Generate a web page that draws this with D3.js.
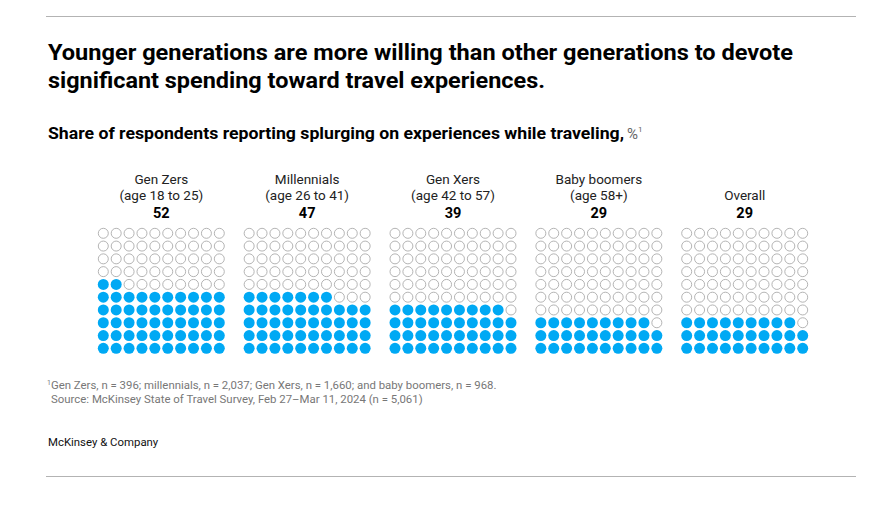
<!DOCTYPE html>
<html>
<head>
<meta charset="utf-8">
<script src="https://cdn.jsdelivr.net/npm/d3@7"></script>
<style>
  html, body { margin: 0; padding: 0; background: #fff; }
  svg { display: block; }
</style>
</head>
<body>
<svg id="chart" width="888" height="511"></svg>
<script>
const groupNames = ["Gen Zers", "Millennials", "Gen Xers", "Baby boomers", "Overall"];
const groupAges = ["(age 18 to 25)", "(age 26 to 41)", "(age 42 to 57)", "(age 58+)", ""];
const values = [52, 47, 39, 29, 29];

const title = ["Younger generations are more willing than other generations to devote",
               "significant spending toward travel experiences."];
const subtitle = "Share of respondents reporting splurging on experiences while traveling,";
const footnote1 = "Gen Zers, n = 396; millennials, n = 2,037; Gen Xers, n = 1,660; and baby boomers, n = 968.";
const footnote2 = "Source: McKinsey State of Travel Survey, Feb 27\u2013Mar 11, 2024 (n = 5,061)";
const brand = "McKinsey & Company";

const svg = d3.select("#chart");
const font = "Roboto, 'Liberation Sans', Arial, sans-serif";

// rules
svg.append("line").attr("x1", 46).attr("x2", 856).attr("y1", 16.5).attr("y2", 16.5)
  .attr("stroke", "#b3b3b3").attr("stroke-width", 1);
svg.append("line").attr("x1", 46).attr("x2", 856).attr("y1", 476.5).attr("y2", 476.5)
  .attr("stroke", "#b3b3b3").attr("stroke-width", 1);

// title
const titleWidths = [745, 497];
svg.selectAll("text.title").data(title).join("text").attr("class", "title")
  .attr("x", 48).attr("y", (d, i) => 60 + i * 28)
  .attr("font-family", font).attr("font-weight", 700).attr("font-size", 22)
  .attr("fill", "#000").attr("textLength", (d, i) => titleWidths[i])
  .attr("lengthAdjust", "spacingAndGlyphs")
  .text(d => d);

svg.append("text").attr("x", 48).attr("y", 139)
  .attr("font-family", font).attr("font-weight", 700).attr("font-size", 16).attr("fill", "#000")
  .attr("textLength", 576).attr("lengthAdjust", "spacingAndGlyphs")
  .text(subtitle);
const pct = svg.append("text").attr("x", 627).attr("y", 139)
  .attr("font-family", font).attr("font-size", 15).attr("fill", "#666");
pct.append("tspan").text("%");
pct.append("tspan").attr("font-size", 8).attr("dy", -7).text("1");

// scales
const gx = d3.scalePoint().domain(groupNames).range([103.3, 686.7]);
const cx = d3.scaleLinear().domain([0, 9]).range([0, 116]);
const cy = d3.scaleLinear().domain([0, 9]).range([233.3, 348.3]);
const blue = "#00a9f4";

const groups = svg.selectAll("g.grp").data(groupNames.map((n, i) => ({name: n, age: groupAges[i], v: values[i]})))
  .join("g").attr("class", "grp")
  .attr("transform", d => `translate(${gx(d.name)},0)`);

const mid = cx(4.5);
groups.append("text").attr("x", mid).attr("y", d => d.age ? 184 : 200)
  .attr("text-anchor", "middle").attr("font-family", font).attr("font-size", 13.5).attr("fill", "#222")
  .text(d => d.name);
groups.append("text").attr("x", mid).attr("y", 200)
  .attr("text-anchor", "middle").attr("font-family", font).attr("font-size", 13.5).attr("fill", "#222")
  .text(d => d.age);
groups.append("text").attr("x", mid).attr("y", 218)
  .attr("text-anchor", "middle").attr("font-family", font).attr("font-size", 14.5).attr("font-weight", 700).attr("fill", "#000")
  .text(d => d.v);

groups.selectAll("circle").data(d => d3.range(100).map(k => ({k, filled: k < d.v})))
  .join("circle")
  .attr("cx", d => cx(d.k % 10))
  .attr("cy", d => cy(9 - Math.floor(d.k / 10)))
  .attr("r", d => d.filled ? 5.5 : 5)
  .attr("fill", d => d.filled ? blue : "#fff")
  .attr("stroke", d => d.filled ? "none" : "#ababab")
  .attr("stroke-width", 0.9);

// footnotes
const f1 = svg.append("text").attr("x", 47).attr("y", 389)
  .attr("font-family", font).attr("font-size", 11.4).attr("fill", "#777");
f1.append("tspan").attr("font-size", 7).attr("dy", -4).text("1");
f1.append("tspan").attr("dy", 4).text(footnote1);
svg.append("text").attr("x", 51).attr("y", 403)
  .attr("font-family", font).attr("font-size", 11.4).attr("fill", "#777").text(footnote2);

svg.append("text").attr("x", 48).attr("y", 446)
  .attr("font-family", font).attr("font-size", 11.4).attr("fill", "#111").text(brand);
</script>
</body>
</html>
